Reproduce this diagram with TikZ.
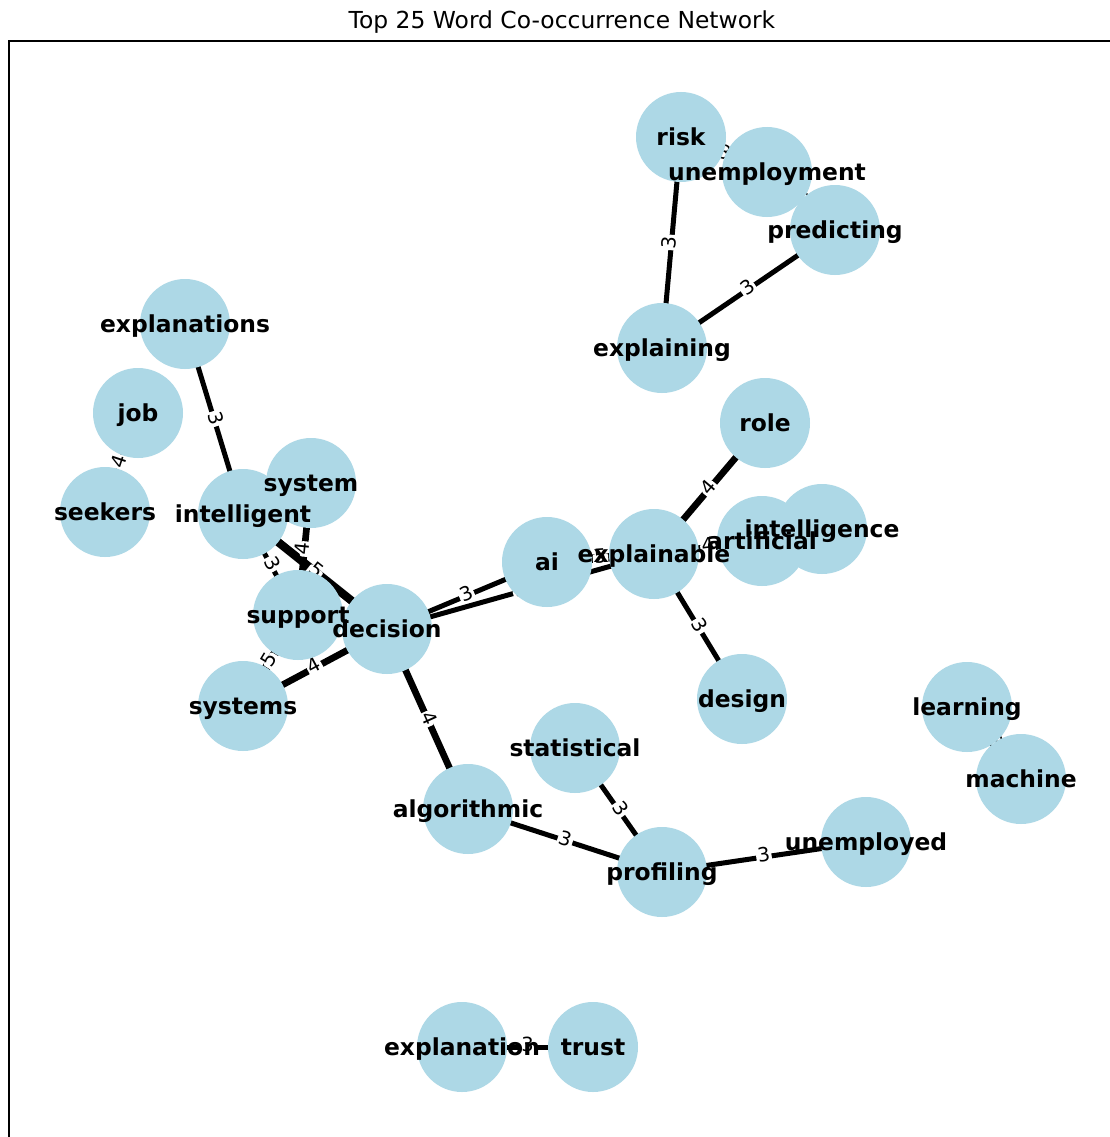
\documentclass[tikz,border=0pt]{standalone}
\usepackage{fontspec}
\setmainfont{DejaVu Sans}
\definecolor{nodeblue}{HTML}{ADD8E6}
\begin{document}
\begin{tikzpicture}[x=1pt,y=-1pt,
  circ/.style={circle,fill=nodeblue,draw=none,minimum size=90pt,inner sep=0pt},
  lab/.style={inner sep=0pt,text height=0.76em,text depth=0.236em,yshift=-5.5pt,font=\fontsize{23.4}{28}\selectfont\bfseries},
  elab/.style={fill=white,rounded corners=2pt,inner sep=1.5pt,sloped,text height=0.73em,text depth=0pt,yshift=-1pt,font=\fontsize{19.5}{23}\selectfont},
  edgeline/.style={draw=black,line cap=butt}]
\useasboundingbox (0,0) rectangle (1110,1137);
\fill[white] (0,0) rectangle (1110,1137);
\node[anchor=base,inner sep=0pt,font=\fontsize{23.4}{28}\selectfont] (title) at (562,29) {Top 25 Word Co-occurrence Network};
\draw[line width=1.2pt] (9,1150) -- (9,41) -- (1116,41) -- (1116,1150);
% node positions
\coordinate (risk) at (681,137);
\coordinate (unemployment) at (767,172);
\coordinate (predicting) at (835,230);
\coordinate (explaining) at (662,348);
\coordinate (explanations) at (185,324);
\coordinate (job) at (138,413);
\coordinate (seekers) at (105,512);
\coordinate (intelligent) at (243,514);
\coordinate (system) at (311,483);
\coordinate (support) at (298,615);
\coordinate (decision) at (387,629);
\coordinate (systems) at (243,706);
\coordinate (ai) at (547,562);
\coordinate (explainable) at (654,554);
\coordinate (artificial) at (762,541);
\coordinate (intelligence) at (822,529);
\coordinate (role) at (765,423);
\coordinate (design) at (742,699);
\coordinate (learning) at (967,707);
\coordinate (machine) at (1021,779);
\coordinate (statistical) at (575,748);
\coordinate (algorithmic) at (468,809);
\coordinate (profiling) at (662,872);
\coordinate (unemployed) at (866,842);
\coordinate (explanation) at (462,1047);
\coordinate (trust) at (593,1047);
\def\edgelist{risk/unemployment/3,unemployment/predicting/3,risk/explaining/3,predicting/explaining/3,
explanations/intelligent/3,job/seekers/4,intelligent/support/3,system/support/4,intelligent/decision/5,
support/decision/5,systems/support/5,systems/decision/4,decision/ai/3,decision/explainable/3,
ai/explainable/5,explainable/role/4,explainable/artificial/4,artificial/intelligence/6,
explainable/design/3,decision/algorithmic/4,statistical/profiling/3,algorithmic/profiling/3,
profiling/unemployed/3,learning/machine/3,explanation/trust/3}
% edges
\foreach \a/\b/\w in \edgelist {
  \draw[edgeline,line width=\w*1.667] (\a) -- (\b);
}
% edge labels
\foreach \a/\b/\w in \edgelist {
  \path (\a) -- node[elab] {\w} (\b);
}
% node circles
\foreach \n in {risk,unemployment,predicting,explaining,explanations,job,seekers,intelligent,system,support,decision,systems,ai,explainable,artificial,intelligence,role,design,learning,machine,statistical,algorithmic,profiling,unemployed,explanation,trust} {
  \node[circ] (\n-c) at (\n) {};
}
% node labels
\foreach \n in {risk,unemployment,predicting,explaining,explanations,job,seekers,intelligent,system,support,decision,systems,ai,explainable,artificial,intelligence,role,design,learning,machine,statistical,algorithmic,profiling,unemployed,explanation,trust} {
  \node[lab] (\n-t) at (\n) {\n};
}
\end{tikzpicture}
\end{document}
